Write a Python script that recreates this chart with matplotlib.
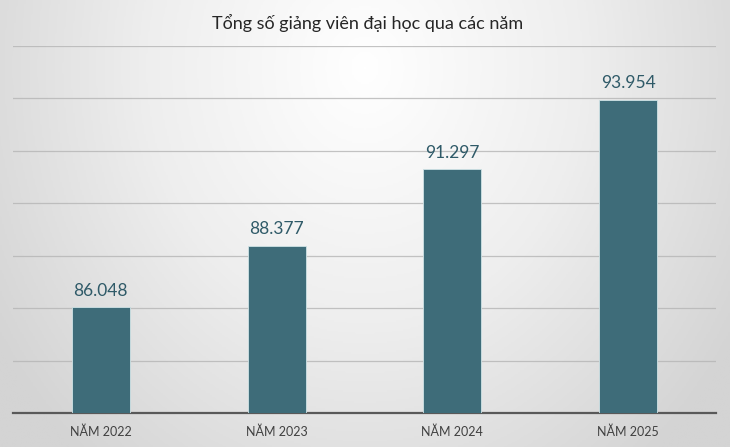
import numpy as np
import matplotlib.pyplot as plt
from matplotlib.colors import LinearSegmentedColormap

# du lieu
nam = ["NĂM 2022", "NĂM 2023", "NĂM 2024", "NĂM 2025"]
giang_vien = [86048, 88377, 91297, 93954]
nhan = ["86.048", "88.377", "91.297", "93.954"]

fig = plt.figure(figsize=(7.3, 4.47), dpi=100)

# nen gradient (trang o giua tren, xam o mep)
bg = fig.add_axes([0, 0, 1, 1])
bg.set_axis_off()
gx, gy = np.meshgrid(np.linspace(-1, 1, 400), np.linspace(0, 1, 250))
r = np.sqrt((gx / 1.2) ** 2 + ((gy - 0.15) / 1.15) ** 2)
cmap_bg = LinearSegmentedColormap.from_list("bg", ["#ffffff", "#eeeeee", "#d4d4d4"])
bg.imshow(np.clip(r, 0, 1), cmap=cmap_bg, aspect="auto", extent=[0, 1, 0, 1],
          vmin=0, vmax=1, origin="upper")
bg.set_xlim(0, 1)
bg.set_ylim(0, 1)

ax = fig.add_axes([13 / 730, 34 / 447, 703 / 730, 367 / 447])
ax.patch.set_alpha(0)
x = np.arange(len(nam))
bars = ax.bar(x, giang_vien, width=0.33, color="#3e6c79", edgecolor="#cfe3e6",
              linewidth=0.6, zorder=3)
ax.set_xlim(-0.5, len(nam) - 0.5)
ax.set_ylim(82000, 96000)
ax.set_yticks(np.arange(82000, 96001, 2000))
ax.yaxis.grid(True, color="#b5b5b5", alpha=0.8, linewidth=0.9, zorder=0)
ax.set_yticklabels([])
ax.tick_params(axis="y", length=0)
ax.tick_params(axis="x", length=0, pad=9)
ax.set_xticks(x)
ax.set_xticklabels(nam, fontsize=9, color="#404040", family="Lato")
for s in ["top", "right", "left"]:
    ax.spines[s].set_visible(False)
ax.spines["bottom"].set_color("#595959")
ax.spines["bottom"].set_linewidth(1.6)

for b, t in zip(bars, nhan):
    ax.annotate(t, (b.get_x() + b.get_width() / 2, b.get_height()),
                xytext=(0, 6), textcoords="offset points", ha="center", va="bottom",
                fontsize=12.5, color="#2f5a68", family="Lato")

fig.text(0.503, 0.948, "Tổng số giảng viên đại học qua các năm", ha="center", va="center",
         fontsize=13, color="#262626", family="Lato")

fig.savefig("out.png", dpi=100)
